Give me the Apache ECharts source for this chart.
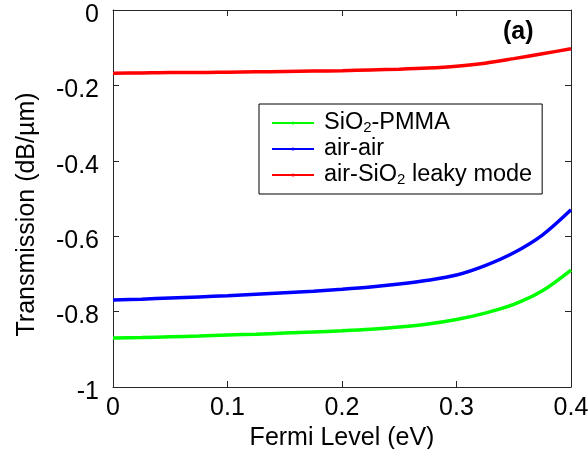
<!DOCTYPE html>
<html>
<head>
<meta charset="utf-8">
<script src="https://cdn.jsdelivr.net/npm/echarts@6/dist/echarts.min.js"></script>
<style>
  html, body { margin: 0; padding: 0; background: #fff; }
  #app { width: 588px; height: 449px; }
</style>
</head>
<body>
<div id="app"></div>
<script>
const fermi = [0, 0.025, 0.05, 0.075, 0.1, 0.125, 0.15, 0.175, 0.2, 0.225, 0.25, 0.275, 0.3, 0.325, 0.35, 0.375, 0.4]
const sio2Pmma = [-0.870, -0.869, -0.867, -0.865, -0.862, -0.860, -0.857, -0.854, -0.851, -0.847, -0.841, -0.833, -0.821, -0.804, -0.781, -0.745, -0.690]
const airAir = [-0.769, -0.767, -0.764, -0.761, -0.758, -0.754, -0.750, -0.746, -0.741, -0.735, -0.727, -0.717, -0.703, -0.678, -0.644, -0.597, -0.530]
const airSio2 = [-0.168, -0.167, -0.166, -0.166, -0.165, -0.164, -0.163, -0.162, -0.161, -0.159, -0.157, -0.154, -0.149, -0.141, -0.129, -0.116, -0.103]
const seriesNames = ['SiO2-PMMA', 'air-air', 'air-SiO2 leaky mode']
const legendLabels = ['SiO{sub|2}-PMMA', 'air-air', 'air-SiO{sub|2} leaky mode']

const font = 'Liberation Sans, Arial, sans-serif'
const axisColor = '#262626'

const pairs = arr => fermi.map((x, i) => [x, arr[i]])

const echart = echarts.init(document.getElementById('app'))

const line = (name, data, color) => ({
  name: name,
  type: 'line',
  data: pairs(data),
  smooth: 0.3,
  symbol: 'none',
  lineStyle: { color: color, width: 3.5 },
  itemStyle: { color: color },
  xAxisIndex: 0,
  yAxisIndex: 0
})

echart.setOption({
  animation: false,
  title: {
    text: '(a)',
    left: 498,
    top: 15,
    textStyle: { fontFamily: font, fontSize: 25, fontWeight: 'bold', color: '#000' }
  },
  grid: { left: 113, right: 17, top: 10, bottom: 62, outerBoundsMode: 'none' },
  legend: {
    left: 259,
    top: 104,
    orient: 'vertical',
    data: seriesNames,
    itemWidth: 42,
    itemHeight: 4,
    itemGap: 2,
    padding: [7, 10, 7, 12],
    borderColor: '#000',
    borderWidth: 1,
    formatter: name => legendLabels[seriesNames.indexOf(name)],
    textStyle: {
      fontFamily: font,
      fontSize: 23.5,
      color: '#000',
      lineHeight: 24,
      padding: [0, 0, 0, 5],
      rich: {
        sub: { fontFamily: font, fontSize: 15, verticalAlign: 'bottom', padding: [10, 0, 0, 0], color: '#000' }
      }
    }
  },
  xAxis: [
    {
      type: 'value',
      min: 0,
      max: 0.4,
      interval: 0.1,
      name: 'Fermi Level (eV)',
      nameLocation: 'middle',
      nameGap: 37,
      nameTextStyle: { fontFamily: font, fontSize: 25, color: '#000' },
      axisLine: { show: true, onZero: false, lineStyle: { color: axisColor } },
      axisTick: { show: true, inside: true, length: 6, lineStyle: { color: axisColor } },
      axisLabel: { fontFamily: font, fontSize: 25, color: '#000', margin: 9 },
      splitLine: { show: false }
    },
    {
      type: 'value',
      position: 'top',
      min: 0,
      max: 0.4,
      interval: 0.1,
      axisLine: { show: true, onZero: false, lineStyle: { color: axisColor } },
      axisTick: { show: true, inside: true, length: 6, lineStyle: { color: axisColor } },
      axisLabel: { show: false },
      splitLine: { show: false }
    }
  ],
  yAxis: [
    {
      type: 'value',
      min: -1,
      max: 0,
      interval: 0.2,
      name: 'Transmission (dB/µm)',
      nameLocation: 'middle',
      nameGap: 73,
      nameTextStyle: { fontFamily: font, fontSize: 25, color: '#000', padding: [0, 32, 0, 0] },
      axisLine: { show: true, onZero: false, lineStyle: { color: axisColor } },
      axisTick: { show: true, inside: true, length: 6, lineStyle: { color: axisColor } },
      axisLabel: {
        fontFamily: font, fontSize: 25, color: '#000', margin: 14,
        formatter: v => '{a|' + String(Math.round(v * 10) / 10) + '}',
        rich: {
          a: { fontFamily: font, fontSize: 25, color: '#000', padding: [10, 0, 0, 0] }
        }
      },
      splitLine: { show: false }
    },
    {
      type: 'value',
      position: 'right',
      min: -1,
      max: 0,
      interval: 0.2,
      axisLine: { show: true, onZero: false, lineStyle: { color: axisColor } },
      axisTick: { show: true, inside: true, length: 6, lineStyle: { color: axisColor } },
      axisLabel: { show: false },
      splitLine: { show: false }
    }
  ],
  series: [
    line(seriesNames[0], sio2Pmma, '#00ff00'),
    line(seriesNames[1], airAir, '#0000ff'),
    line(seriesNames[2], airSio2, '#ff0000')
  ]
})
</script>
</body>
</html>
